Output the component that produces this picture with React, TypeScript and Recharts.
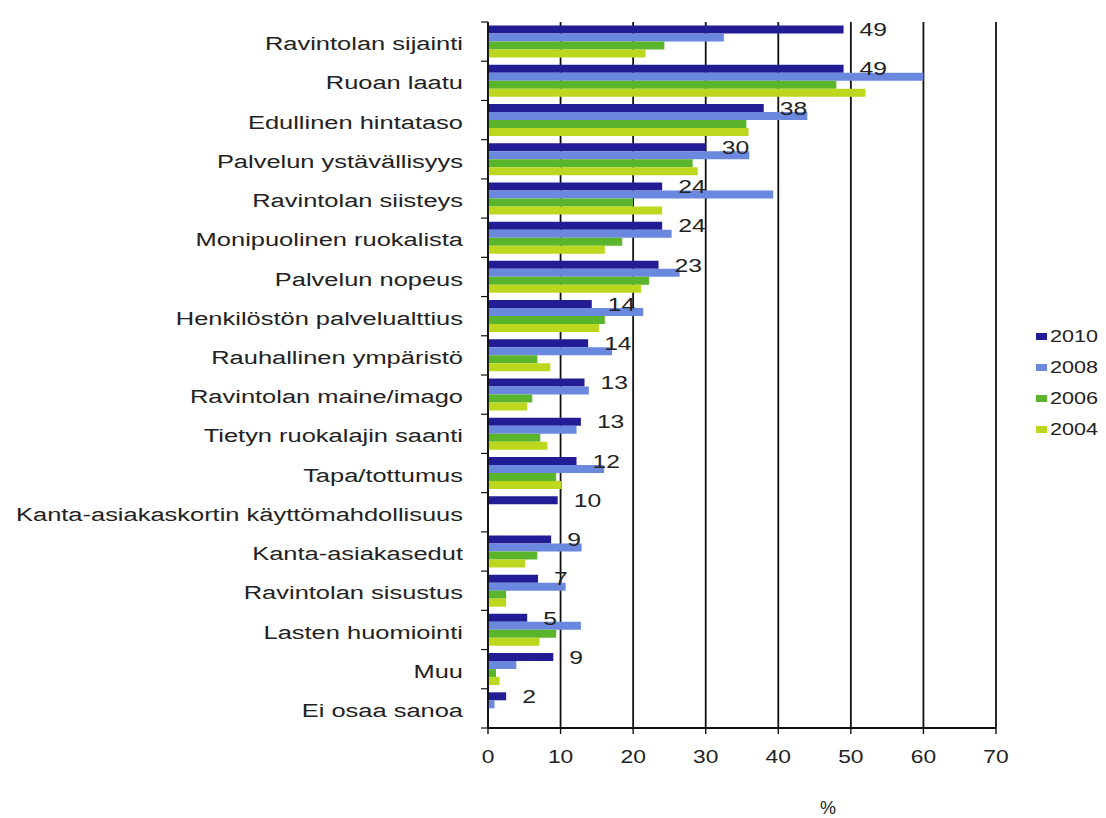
import React from "react";
import { BarChart, Bar, XAxis, YAxis, CartesianGrid, Legend, LabelList, Label } from "recharts";

const categories = [
  "Ravintolan sijainti",
  "Ruoan laatu",
  "Edullinen hintataso",
  "Palvelun ystävällisyys",
  "Ravintolan siisteys",
  "Monipuolinen ruokalista",
  "Palvelun nopeus",
  "Henkilöstön palvelualttius",
  "Rauhallinen ympäristö",
  "Ravintolan maine/imago",
  "Tietyn ruokalajin saanti",
  "Tapa/tottumus",
  "Kanta-asiakaskortin käyttömahdollisuus",
  "Kanta-asiakasedut",
  "Ravintolan sisustus",
  "Lasten huomiointi",
  "Muu",
  "Ei osaa sanoa",
];

const series2010 = [49, 49, 38, 30, 24, 24, 23.5, 14.3, 13.8, 13.3, 12.8, 12.2, 9.6, 8.7, 6.9, 5.4, 9, 2.5];
const series2008 = [32.5, 60, 44, 36, 39.3, 25.3, 26.4, 21.4, 17.1, 13.9, 12.2, 16, 0, 12.9, 10.7, 12.8, 3.9, 0.9];
const series2006 = [24.3, 48, 35.6, 28.2, 20, 18.5, 22.2, 16.1, 6.8, 6.1, 7.2, 9.4, 0, 6.8, 2.5, 9.4, 1.1, 0];
const series2004 = [21.7, 52, 35.9, 28.9, 24, 16.1, 21.1, 15.3, 8.6, 5.4, 8.2, 10.1, 0, 5.1, 2.5, 7.1, 1.6, 0];
const labels2010 = ["49", "49", "38", "30", "24", "24", "23", "14", "14", "13", "13", "12", "10", "9", "7", "5", "9", "2"];

const xTicks = [0, 10, 20, 30, 40, 50, 60, 70];

const seriesDefs = [
  { key: "y2010", name: "2010", color: "#221d94" },
  { key: "y2008", name: "2008", color: "#6a88dd" },
  { key: "y2006", name: "2006", color: "#5ab52c" },
  { key: "y2004", name: "2004", color: "#bcd71d" },
];

const data = categories.map((c, i) => ({
  name: c,
  y2010: series2010[i],
  y2008: series2008[i],
  y2006: series2006[i],
  y2004: series2004[i],
  label: labels2010[i],
}));

const FONT = "'Liberation Sans', Arial, sans-serif";
const TEXT = "#222";
const LINE = "#111";
const Y_TICK_MARGIN = 25;

const YTick = (props: any) => {
  const { x, y, payload, index, visibleTicksCount } = props;
  const off = payload && payload.offset ? payload.offset : 19.6;
  const axisX = x + Y_TICK_MARGIN;
  const isLast = index === visibleTicksCount - 1;
  return (
    <g>
      <line x1={axisX - 7} x2={axisX} y1={y - off} y2={y - off} stroke={LINE} strokeWidth={1.2} />
      {isLast && <line x1={axisX - 7} x2={axisX} y1={y + off} y2={y + off} stroke={LINE} strokeWidth={1.2} />}
      <text
        transform={`translate(${x},${y + 2}) scale(1.34,1)`}
        x={0}
        y={0}
        dy="0.35em"
        textAnchor="end"
        fontFamily={FONT}
        fontSize={19}
        fill={TEXT}
      >
        {payload.value}
      </text>
    </g>
  );
};

const XTick = (props: any) => {
  const { x, y, payload } = props;
  return (
    <text
      transform={`translate(${x},${y}) scale(1.2,1)`}
      x={0}
      y={0}
      dy="0.71em"
      textAnchor="middle"
      fontFamily={FONT}
      fontSize={19}
      fill={TEXT}
    >
      {payload.value}
    </text>
  );
};

const ValueLabel = (props: any) => {
  const { x, y, width, height, index } = props;
  const tx = x + width + 16;
  const ty = y + height / 2;
  return (
    <text
      transform={`translate(${tx},${ty}) scale(1.3,1)`}
      x={0}
      y={0}
      dy="0.35em"
      textAnchor="start"
      fontFamily={FONT}
      fontSize={19}
      fill={TEXT}
    >
      {labels2010[index]}
    </text>
  );
};

const LegendContent = (props: any) => {
  const payload: any[] = props.payload || [];
  const ordered = seriesDefs
    .map((s) => payload.find((p: any) => p.value === s.name) || { value: s.name, color: s.color })
  return (
    <div style={{ fontFamily: FONT }}>
      {ordered.map((p: any) => (
        <div key={p.value} style={{ height: 31, display: "flex", alignItems: "center" }}>
          <span style={{ display: "inline-block", width: 11, height: 7, background: p.color, marginRight: 3 }} />
          <span
            style={{
              display: "inline-block",
              fontSize: 16,
              color: TEXT,
              transform: "scaleX(1.35)",
              transformOrigin: "left center",
            }}
          >
            {p.value}
          </span>
        </div>
      ))}
    </div>
  );
};

export default function App() {
  return (
    <div style={{ position: "absolute", left: 0, top: 0, width: 1106, height: 818, background: "#fff" }}>
      <BarChart
        width={1106}
        height={818}
        data={data}
        layout="vertical"
        margin={{ top: 22, right: 110, bottom: 0, left: 0 }}
        barCategoryGap="9%"
        barGap={0}
      >
        <CartesianGrid horizontal={false} vertical={true} stroke={LINE} strokeWidth={1.8} />
        <XAxis
          type="number"
          domain={[0, 70]}
          ticks={xTicks}
          height={90}
          axisLine={{ stroke: LINE, strokeWidth: 1.8 }}
          tickLine={{ stroke: LINE, strokeWidth: 1.4 }}
          tickSize={6}
          tickMargin={16}
          tick={<XTick />}
          interval={0}
        >
          <Label
            value="%"
            position="insideBottom"
            offset={4}
            dx={86}
            style={{ fontFamily: FONT, fontSize: 18, fill: TEXT }}
          />
        </XAxis>
        <YAxis
          type="category"
          dataKey="name"
          width={488}
          axisLine={{ stroke: LINE, strokeWidth: 1.8 }}
          tickLine={false}
          tickSize={0}
          tickMargin={Y_TICK_MARGIN}
          tick={<YTick />}
          interval={0}
        />
        <Legend
          layout="vertical"
          align="center"
          verticalAlign="middle"
          content={<LegendContent />}
          wrapperStyle={{ position: "absolute", left: 1036, top: 321, width: 70 }}
        />
        {seriesDefs.map((s) => (
          <Bar key={s.key} dataKey={s.key} name={s.name} fill={s.color} isAnimationActive={false}>
            {s.key === "y2010" && <LabelList dataKey="label" content={<ValueLabel />} />}
          </Bar>
        ))}
      </BarChart>
    </div>
  );
}
